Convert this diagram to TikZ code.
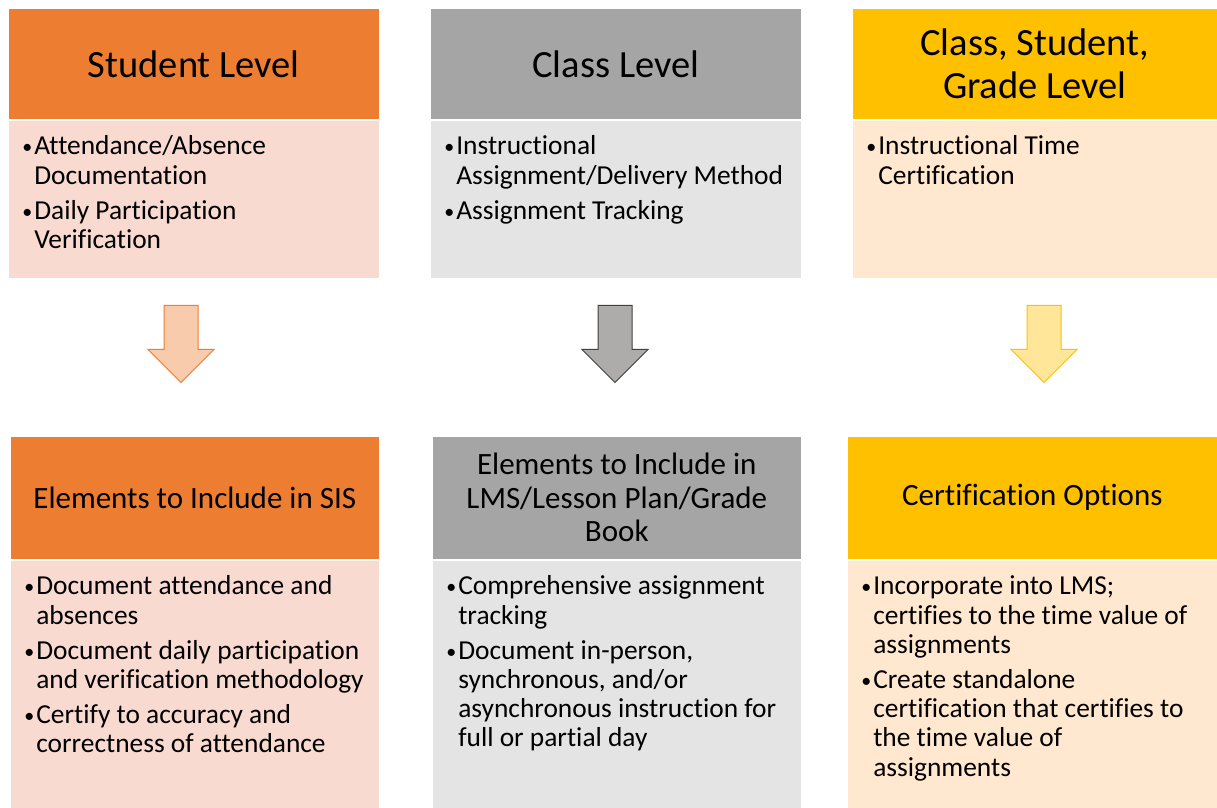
\documentclass[tikz,border=0pt]{standalone}
\usepackage{fontspec}
\setmainfont{Carlito}[Ligatures=NoCommon]
\usetikzlibrary{shapes.arrows}

\definecolor{orangeHead}{HTML}{ED7D31}
\definecolor{orangeBody}{HTML}{F9DAD0}
\definecolor{grayHead}{HTML}{A5A5A5}
\definecolor{grayBody}{HTML}{E4E4E4}
\definecolor{goldHead}{HTML}{FFC000}
\definecolor{goldBody}{HTML}{FFE8CF}
\definecolor{orangeArrow}{HTML}{F8CBAD}
\definecolor{grayArrow}{HTML}{AEABAB}
\definecolor{goldArrow}{HTML}{FFE699}

\newcommand{\bul}[1]{\par\noindent\hangindent=12pt\hangafter=1\makebox[12pt][l]{\raisebox{1pt}{\fontsize{20}{20}\selectfont\textbullet}}#1}
\newcommand{\bodytext}[3]{\parbox[t][#1][t]{#2}{\setlength{\parskip}{5.5pt}#3}}

\begin{document}
\begin{tikzpicture}[x=1pt, y=1pt]
	\tikzstyle{headStyle}=[rectangle, anchor=north west, draw=white, line width=.6pt, align=center, inner sep=0pt]
	\tikzstyle{topHead}=[headStyle, minimum height=111pt, font=\fontsize{38.5}{43}\selectfont]
	\tikzstyle{lowHead}=[headStyle, minimum height=123pt, font=\fontsize{31}{33.5}\selectfont]
	\tikzstyle{bodyStyle}=[rectangle, anchor=north west, draw=white, line width=.6pt, inner xsep=14pt, inner ysep=16pt, font=\fontsize{27.4}{29.3}\selectfont]
	\tikzstyle{downArrow}=[single arrow, rotate=-90, anchor=tail, line width=1pt, inner xsep=0pt, inner ysep=16.5pt, single arrow head extend=16pt, single arrow head indent=0pt, single arrow tip angle=90, minimum height=77pt, minimum width=65pt]
	\useasboundingbox (0,0) rectangle (1217,807);
	% top row
	\node[topHead, fill=orangeHead, minimum width=371pt] (stuHead) at (8,799) {Student Level};
	\node[bodyStyle, fill=orangeBody] (stuBody) at (stuHead.south west) {\bodytext{126pt}{343pt}{%
		\bul{Attendance/Absence\\Documentation}
		\bul{Daily Participation\\Verification}}};
	\node[topHead, fill=grayHead, minimum width=371pt] (clsHead) at (430,799) {Class Level};
	\node[bodyStyle, fill=grayBody] (clsBody) at (clsHead.south west) {\bodytext{126pt}{343pt}{%
		\bul{Instructional\\Assignment/Delivery Method}
		\bul{Assignment Tracking}}};
	\node[topHead, fill=goldHead, minimum width=365pt] (allHead) at (852,799) {Class, Student,\\Grade Level};
	\node[bodyStyle, fill=goldBody] (allBody) at (allHead.south west) {\bodytext{126pt}{337pt}{%
		\bul{Instructional Time\\Certification}}};
	% arrows
	\node[downArrow, fill=orangeArrow, draw=orangeHead] (stuArrow) at (181,502) {};
	\node[downArrow, fill=grayArrow, draw=black!75] (clsArrow) at (615,502) {};
	\node[downArrow, fill=goldArrow, draw=goldHead] (allArrow) at (1044,502) {};
	% bottom row
	\node[lowHead, fill=orangeHead, minimum width=369pt] (sisHead) at (10,371) {Elements to Include in SIS};
	\node[bodyStyle, fill=orangeBody] (sisBody) at (sisHead.south west) {\bodytext{216pt}{341pt}{%
		\bul{Document attendance and\\absences}
		\bul{Document daily participation\\and verification methodology}
		\bul{Certify to accuracy and\\correctness of attendance}}};
	\node[lowHead, fill=grayHead, minimum width=369pt] (lmsHead) at (432,371) {Elements to Include in\\LMS/Lesson Plan/Grade\\Book};
	\node[bodyStyle, fill=grayBody] (lmsBody) at (lmsHead.south west) {\bodytext{216pt}{341pt}{%
		\bul{Comprehensive assignment\\tracking}
		\bul{Document in-person,\\synchronous, and/or\\asynchronous instruction for\\full or partial day}}};
	\node[lowHead, fill=goldHead, minimum width=370pt] (certHead) at (847,371) {Certification Options};
	\node[bodyStyle, fill=goldBody] (certBody) at (certHead.south west) {\bodytext{216pt}{342pt}{%
		\bul{Incorporate into LMS;\\certifies to the time value of\\assignments}
		\bul{Create standalone\\certification that certifies to\\the time value of\\assignments}}};
\end{tikzpicture}
\end{document}
